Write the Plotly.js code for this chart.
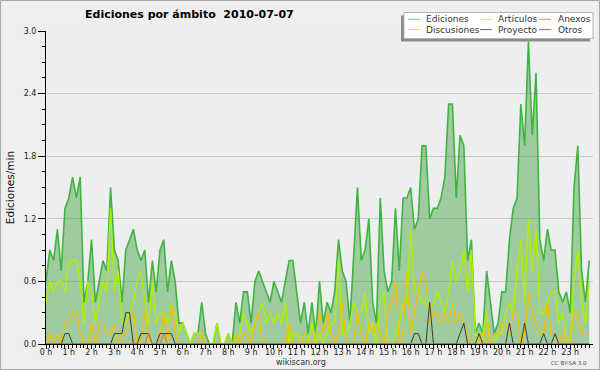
<!DOCTYPE html>
<html><head><meta charset="utf-8">
<script src="https://cdn.plot.ly/plotly-3.0.1.min.js"></script>
<style>html,body{margin:0;padding:0;background:#efefef}#chart{width:600px;height:370px}</style>
</head><body><div id="chart"></div>
<script>
// Edits per minute, 10-minute bins, 2010-07-07
const ediciones = [
0.6,0.9,0.8,1.1,0.7,1.3,1.4,1.6,1.4,1.6,
0.4,0.6,1.0,0.4,0.6,0.8,0.7,1.5,0.9,0.8,
0.4,0.9,1.0,1.1,0.9,0.8,0.9,0.4,0.8,0.5,
0.9,1.0,0.5,0.8,0.6,0.2,0.2,0.1,0.0,0.1,
0.1,0.4,0.1,0.0,0.0,0.2,0.0,0.0,0.1,0.0,
0.4,0.2,0.5,0.5,0.2,0.6,0.7,0.6,0.5,0.4,
0.6,0.5,0.4,0.6,0.8,0.8,0.5,0.2,0.4,0.1,
0.4,0.1,0.6,0.2,0.4,0.3,0.5,1.0,0.7,0.6,
0.2,0.8,1.5,0.8,0.9,1.2,0.4,0.2,1.4,0.7,
0.5,0.6,1.3,0.7,1.4,1.4,1.5,1.1,1.2,1.9,
1.9,1.2,1.3,1.3,1.4,1.6,2.3,2.3,1.4,2.0,
1.9,0.8,1.0,0.1,0.2,0.1,0.7,0.4,0.1,0.2,
0.5,0.5,1.0,1.3,1.4,2.3,1.9,2.9,2.0,2.6,
1.0,0.8,1.1,0.9,0.9,0.5,0.4,0.5,0.3,1.5,
1.9,0.7,0.4,0.8];
const articulos = [
0.4,0.6,0.5,0.6,0.6,0.5,0.8,0.8,0.8,0.6,
0.2,0.6,0.5,0.2,0.4,0.6,0.5,1.3,0.5,0.7,
0.2,0.2,0.3,0.4,0.6,0.7,0.4,0.2,0.6,0.2,
0.3,0.3,0.2,0.3,0.3,0.1,0.2,0.1,0.0,0.1,
0.1,0.1,0.0,0.0,0.0,0.2,0.0,0.0,0.1,0.0,
0.0,0.1,0.3,0.2,0.1,0.2,0.3,0.4,0.2,0.3,
0.2,0.3,0.2,0.4,0.0,0.1,0.1,0.0,0.0,0.0,
0.2,0.0,0.1,0.0,0.1,0.2,0.2,0.8,0.1,0.1,
0.2,0.4,0.3,0.3,0.5,0.1,0.2,0.0,0.4,0.5,
0.0,0.0,0.1,0.2,0.4,0.4,1.1,0.5,0.5,0.4,
0.4,0.3,0.4,0.5,0.4,0.3,0.5,0.8,0.6,0.7,
0.9,0.5,0.9,0.1,0.0,0.1,0.3,0.0,0.0,0.1,
0.1,0.3,0.4,0.3,0.7,1.0,0.4,1.2,0.7,1.1,
0.3,0.3,0.4,0.5,0.5,0.2,0.3,0.0,0.0,0.6,
0.9,0.4,0.2,0.6];
const discusiones = [
0,0.1,0,0.1,0,0.2,0.2,0.3,0.3,0.1,
0,0,0.2,0,0.2,0.2,0.1,0.1,0.2,0,
0.1,0.1,0.2,0.3,0,0,0.3,0,0,0,
0.1,0.3,0,0.4,0.1,0,0,0,0,0,
0,0.1,0,0,0,0,0,0,0,0,
0.1,0,0.1,0.1,0,0.2,0.3,0,0,0,
0,0,0,0,0.2,0,0,0,0.1,0,
0,0.1,0.3,0.1,0.3,0.1,0,0.1,0.4,0,
0,0,0.3,0.1,0,0.2,0.1,0.2,0.1,0,
0.3,0.4,0.6,0,0.1,0.7,0.1,0.3,0.5,0.7,
0.6,0.2,0.3,0.3,0.2,0.3,0.2,0.4,0.2,0.3,
0.2,0.1,0,0,0.1,0,0.2,0,0.1,0.1,
0.2,0.2,0.1,0.3,0.3,0,0.1,0.5,0.3,0.2,
0.1,0.1,0.4,0.1,0.1,0,0.1,0,0,0.3,
0.3,0.1,0.1,0.1];
const proyecto = [
0,0,0,0,0,0.1,0.1,0,0,0,
0,0,0,0,0,0,0,0,0.1,0.1,
0.1,0.3,0.3,0,0,0.1,0.1,0.1,0,0,
0.1,0.1,0.1,0.1,0,0,0,0,0,0,
0,0,0,0,0,0,0,0,0,0,
0,0,0,0,0,0,0,0,0,0,
0,0,0,0,0,0,0,0,0,0,
0,0,0,0,0,0,0,0,0,0,
0,0,0,0,0,0,0,0,0,0,
0,0,0,0,0,0,0,0.1,0.1,0,
0,0.4,0,0,0,0,0,0,0,0.1,
0.2,0,0,0,0.1,0,0,0,0,0,
0,0,0.2,0,0,0,0.2,0,0,0,
0,0.1,0,0,0.1,0,0,0,0,0,
0,0,0,0];
const anexos = [
0,0,0,0,0,0,0,0,0,0,
0,0,0,0,0,0,0,0,0,0,
0,0,0,0,0,0,0,0.1,0,0,
0,0.1,0,0,0,0,0,0,0,0,
0,0,0,0,0,0,0,0,0,0,
0,0,0,0,0,0,0,0,0,0,
0,0,0,0,0,0,0,0,0,0,
0,0,0,0,0,0,0,0,0,0,
0,0,0,0,0,0,0,0,0,0,
0,0,0,0,0,0,0,0,0,0,
0,0,0,0,0,0,0,0,0,0,
0,0,0,0,0,0,0,0,0,0,
0,0,0,0,0,0,0,0,0,0,
0,0,0,0,0,0,0,0,0,0,
0,0,0,0];
const otros = [
0,0,0,0,0,0,0,0,0,0,
0,0,0,0,0,0,0,0,0,0,
0,0,0,0,0,0,0,0,0,0,
0,0,0,0,0,0,0,0,0,0,
0,0,0,0,0,0,0,0,0,0,
0,0,0,0,0,0,0,0,0,0,
0,0,0,0,0,0,0,0,0,0,
0,0,0,0,0,0,0,0,0,0,
0,0,0,0,0,0,0,0,0,0,
0,0,0,0,0,0,0,0,0,0,
0,0,0,0,0,0,0,0,0,0,
0,0,0,0,0,0,0,0,0,0,
0,0,0,0,0,0,0,0,0,0,
0,0,0,0,0,0,0,0,0,0,
0,0,0,0];
const hourLabels = ["0 h","1 h","2 h","3 h","4 h","5 h","6 h","7 h","8 h","9 h","10 h","11 h",
  "12 h","13 h","14 h","15 h","16 h","17 h","18 h","19 h","20 h","21 h","22 h","23 h"];
const seriesNames = ["Ediciones","Artículos","Anexos","Discusiones","Proyecto","Otros"];
const seriesColors = ["#3fb43f","#b2ee00","#f06a2a","#f4c000","#3a3a3a","#9040e0"];
const legendColors = ["#7acc7a","#d0f060","#f08858","#ffd050","#606060","#9a55ee"];

// time grid: one point per 10-minute bin, in hours
const hours = ediciones.map((_, i) => i / 6);
const hourVals = hourLabels.map((_, i) => i);

const L = 46, R = 7, T = 31, B = 26, W = 600 - L - R, H = 370 - T - B;
const px = x => (x - L) / W;
const py = y => (370 - B - y) / H;

const FONT = 'DejaVu Sans, Verdana, sans-serif';

function lineTrace(y, idx, width) {
  return {x: hours, y: y, type: 'scatter', mode: 'lines', name: seriesNames[idx],
    line: {color: seriesColors[idx], width: width}, hoverinfo: 'skip'};
}
const edTrace = lineTrace(ediciones, 0, 1.6);
edTrace.fill = 'tozeroy';
edTrace.fillcolor = 'rgba(60,160,60,0.44)';

const traces = [
  lineTrace(otros, 5, 1),
  edTrace,
  lineTrace(articulos, 1, 1.5),
  lineTrace(discusiones, 3, 1.3),
  lineTrace(proyecto, 4, 1),
  lineTrace(anexos, 2, 1)
];

// custom legend (3 columns x 2 rows) drawn as shapes + text
const legCols = [[408, 424], [480, 496], [539, 556]];
const legRows = [19.3, 29.6];
const shapes = [
  {type: 'rect', xref: 'paper', yref: 'paper', x0: px(0.5), x1: px(599.5), y0: py(0.5), y1: py(369.5),
   line: {color: '#a8a8a8', width: 1}, layer: 'above'},
  {type: 'rect', xref: 'paper', yref: 'paper', x0: px(401), x1: px(590), y0: py(15.5), y1: py(41.5),
   fillcolor: '#8a8a8a', line: {width: 0}, layer: 'above'},
  {type: 'rect', xref: 'paper', yref: 'paper', x0: px(404), x1: px(593), y0: py(12.5), y1: py(38.5),
   fillcolor: '#ffffff', line: {color: '#b4b4b4', width: 1}, layer: 'above'}
];
const annotations = [];
seriesNames.forEach((nm, k) => {
  const col = legCols[k % 3], row = legRows[Math.floor(k / 3)];
  shapes.push({type: 'line', xref: 'paper', yref: 'paper', x0: px(col[0]), x1: px(col[0] + 12),
    y0: py(row), y1: py(row), line: {color: legendColors[k], width: 1}, layer: 'above'});
  annotations.push({text: nm, xref: 'paper', yref: 'paper', x: px(col[1]), y: py(row),
    xanchor: 'left', yanchor: 'middle', showarrow: false, font: {family: FONT, size: 9, color: '#333'}});
});
annotations.push({text: 'wikiscan.org', xref: 'paper', yref: 'paper', x: px(300.5), y: py(362.3),
  xanchor: 'center', yanchor: 'middle', showarrow: false, font: {family: FONT, size: 8, color: '#333'}});
annotations.push({text: 'CC BY-SA 3.0', xref: 'paper', yref: 'paper', x: px(569.3), y: py(362.7),
  xanchor: 'center', yanchor: 'middle', showarrow: false, font: {family: FONT, size: 5.5, color: '#444'}});

const layout = {
  width: 600, height: 370,
  margin: {l: L, r: R, t: T, b: B, pad: 0},
  paper_bgcolor: '#efefef', plot_bgcolor: '#edeef0',
  showlegend: false,
  font: {family: FONT, color: '#222'},
  title: {text: 'Ediciones por ámbito\u00a0 2010-07-07', xref: 'container', yref: 'container',
    x: 85 / 600, xanchor: 'left', y: 1 - 14 / 370, yanchor: 'middle',
    font: {family: FONT, size: 11, color: '#000', weight: 'bold'}},
  xaxis: {range: [0, 24], tickmode: 'array', tickvals: hourVals, ticktext: hourLabels,
    ticks: 'outside', ticklen: 4, tickcolor: '#000', tickwidth: 1, ticklabelstandoff: -4,
    showline: true, linecolor: '#000', linewidth: 1, showgrid: false, zeroline: false,
    tickfont: {family: FONT, size: 8, color: '#222'}, automargin: false, fixedrange: true,
    minor: {tickmode: 'array', tickvals: hours, ticks: 'outside', ticklen: 3, tickcolor: '#000', showgrid: false}},
  yaxis: {range: [0, 3.0], tickmode: 'linear', tick0: 0, dtick: 0.6, tickformat: '.1f',
    ticks: 'outside', ticklen: 7, tickcolor: '#000', tickwidth: 1,
    showline: true, linecolor: '#000', linewidth: 1, showgrid: true, gridcolor: '#c8c8c8', gridwidth: 1,
    zeroline: false, tickfont: {family: FONT, size: 8, color: '#222'}, automargin: false, fixedrange: true,
    minor: {tick0: 0, dtick: 0.15, ticks: 'outside', ticklen: 3, tickcolor: '#000', showgrid: false},
    title: {text: 'Ediciones/min', standoff: 6, font: {family: FONT, size: 10.5, color: '#111'}}},
  shapes: shapes,
  annotations: annotations
};

Plotly.newPlot('chart', traces, layout, {staticPlot: true, displayModeBar: false});
</script>
</body></html>
